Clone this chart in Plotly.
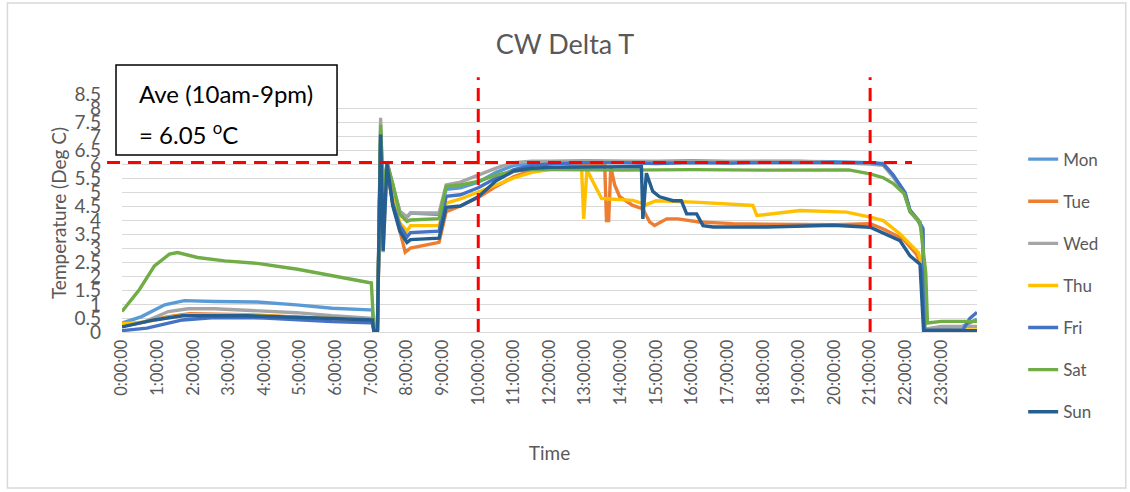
import plotly.graph_objects as go

# x axis: hours of the day, shown as h:00:00
hours = list(range(24))
hour_labels = [f"{h}:00:00" for h in hours]
y_ticks = [i * 0.5 for i in range(18)]
y_labels = [f"{v:g}" for v in y_ticks]

days = ["Mon", "Tue", "Wed", "Thu", "Fri", "Sat", "Sun"]
colors = ["#5B9BD5", "#ED7D31", "#A5A5A5", "#FFC000", "#4472C4", "#70AD47", "#255E91"]

avg_value = 6.05
window_start = 10
window_end = 21

# values (hour, deg C)
mon_t = [0, 0.55, 1.2, 1.75, 2.6, 3.8, 4.9, 5.9, 6.95, 7.03, 7.07, 7.17, 7.26, 7.33, 7.44, 7.6, 7.8, 8.0, 8.1,
         8.9, 9.1, 9.5, 10.0, 10.5, 11.0, 11.5, 12.0, 13.0, 14.0, 15.0, 16.0, 17.0, 18.0, 19.0, 20.0, 21.0,
         21.37, 21.64, 21.98, 22.12, 22.35, 22.48, 22.53, 23.0, 23.6, 24.0]
mon_v = [0.32, 0.55, 0.97, 1.12, 1.09, 1.07, 0.97, 0.85, 0.79, 0.79, 0.1, 0.05, 7.2, 5.2, 6.0, 5.2, 4.3, 4.1, 4.25,
         4.2, 5.1, 5.15, 5.35, 5.7, 5.95, 6.0, 6.05, 6.1, 6.1, 6.08, 6.12, 6.08, 6.1, 6.1, 6.08, 6.05,
         6.02, 5.6, 4.95, 4.3, 3.98, 3.68, 0.1, 0.15, 0.2, 0.45]

tue_t = [0, 0.6, 1.3, 1.9, 3.5, 4.9, 6.2, 6.95, 7.03, 7.07, 7.17, 7.26, 7.33, 7.44, 7.6, 7.8, 7.95, 8.1, 8.9,
         9.1, 9.5, 10.0, 10.5, 11.0, 11.5, 12.0, 13.0, 13.55, 13.6, 13.66, 13.72, 13.83, 13.97, 14.34, 14.62,
         14.81, 14.95, 15.29, 15.6, 16.2, 17.15, 18.0, 19.0, 20.0, 21.0, 21.37, 21.93, 22.3, 22.44, 22.52,
         23.0, 24.0]
tue_v = [0.22, 0.35, 0.55, 0.65, 0.62, 0.53, 0.45, 0.4, 0.4, 0.1, 0.1, 6.7, 4.5, 5.8, 4.6, 3.6, 2.85, 3.0, 3.2,
         4.3, 4.5, 4.8, 5.2, 5.55, 5.75, 5.85, 5.95, 5.95, 3.98, 3.98, 5.9, 5.25, 4.83, 4.52, 4.4,
         3.93, 3.8, 4.04, 4.04, 3.93, 3.87, 3.85, 3.85, 3.83, 3.87, 3.68, 3.32, 2.78, 2.36, 0.07,
         0.05, 0.05]

wed_t = [0, 0.6, 1.3, 1.85, 2.6, 3.8, 4.9, 5.9, 6.95, 7.03, 7.07, 7.17, 7.26, 7.33, 7.44, 7.6, 7.8, 8.0, 8.1,
         8.9, 9.1, 9.5, 10.0, 10.5, 11.0, 11.5, 12.0, 13.0, 14.0, 15.0, 16.0, 17.0, 18.0, 19.0, 20.0, 21.0,
         21.37, 21.64, 21.98, 22.12, 22.35, 22.48, 22.53, 23.0, 24.0]
wed_v = [0.2, 0.35, 0.73, 0.83, 0.83, 0.77, 0.69, 0.58, 0.49, 0.49, 0.1, 0.1, 7.65, 2.85, 6.1, 5.2, 4.3, 4.1, 4.25,
         4.25, 5.25, 5.35, 5.6, 5.85, 6.05, 6.1, 6.1, 6.12, 6.1, 6.1, 6.12, 6.1, 6.08, 6.1, 6.05, 6.0,
         5.95, 5.55, 4.9, 4.3, 3.95, 3.6, 0.1, 0.2, 0.2]

thu_t = [0, 0.6, 1.3, 1.9, 3.5, 4.9, 6.2, 6.95, 7.03, 7.07, 7.17, 7.26, 7.33, 7.44, 7.6, 7.8, 8.0, 8.1, 8.9,
         9.1, 9.5, 10.0, 10.5, 11.0, 11.5, 12.0, 12.9, 12.96, 13.05, 13.32, 13.46, 13.8, 14.34, 14.72, 14.99,
         16.22, 17.71, 17.82, 19.03, 20.34, 20.9, 21.0, 21.37, 21.84, 22.12, 22.35, 22.44, 22.52, 24.0]
thu_v = [0.3, 0.35, 0.52, 0.62, 0.6, 0.53, 0.45, 0.42, 0.42, 0.1, 0.1, 6.6, 4.5, 5.9, 4.8, 3.9, 3.6, 3.8, 3.8,
         4.6, 4.75, 5.0, 5.24, 5.5, 5.7, 5.8, 5.85, 4.04, 5.79, 5.13, 4.77, 4.74, 4.7, 4.55, 4.69,
         4.63, 4.52, 4.16, 4.34, 4.28, 4.14, 4.1, 3.98, 3.5, 3.14, 2.84, 2.48, 0.07, 0.07]

fri_t = [0, 0.7, 1.7, 2.6, 4.0, 5.9, 6.95, 7.03, 7.07, 7.17, 7.26, 7.33, 7.44, 7.6, 7.8, 8.0, 8.1, 8.9,
         9.1, 9.5, 10.0, 10.5, 11.0, 11.5, 12.0, 13.0, 14.0, 15.0, 16.0, 17.0, 18.0, 19.0, 20.0, 21.0,
         21.37, 21.64, 21.98, 22.12, 22.35, 22.48, 22.53, 23.6, 23.8, 24.0]
fri_v = [0.05, 0.14, 0.43, 0.52, 0.5, 0.37, 0.33, 0.33, 0.05, 0.05, 6.9, 4.0, 5.9, 4.6, 3.8, 3.4, 3.55, 3.6,
         4.85, 4.9, 5.15, 5.5, 5.8, 5.95, 6.0, 6.05, 6.05, 6.02, 6.05, 6.03, 6.05, 6.05, 6.03, 6.05,
         6.0, 5.62, 4.98, 4.35, 4.0, 3.7, 0.07, 0.07, 0.49, 0.7]

sat_t = [0, 0.49, 0.91, 1.33, 1.56, 2.12, 2.88, 3.8, 4.93, 5.88, 6.9, 7.0, 7.07, 7.17, 7.26, 7.33, 7.44, 7.6,
         7.8, 8.0, 8.1, 8.9, 9.1, 9.5, 10.0, 10.5, 11.0, 11.5, 12.0, 14.0, 16.0, 18.0, 20.4, 21.0, 21.37,
         21.64, 21.95, 22.12, 22.4, 22.56, 22.61, 23.0, 24.0]
sat_v = [0.73, 1.52, 2.36, 2.78, 2.84, 2.66, 2.54, 2.45, 2.24, 2.02, 1.79, 1.75, 0.05, 0.1, 7.4, 5.0, 6.05, 5.3,
         4.2, 3.95, 4.0, 4.05, 5.2, 5.25, 5.38, 5.6, 5.75, 5.8, 5.8, 5.78, 5.8, 5.78, 5.79, 5.65, 5.51,
         5.31, 4.95, 4.3, 3.93, 2.13, 0.32, 0.38, 0.38]

sun_t = [0, 0.9, 1.7, 3.5, 5.5, 6.95, 7.03, 7.07, 7.17, 7.26, 7.33, 7.44, 7.6, 7.8, 8.0, 8.1, 8.9,
         9.1, 9.5, 10.0, 10.5, 11.0, 11.5, 12.0, 13.0, 14.0, 14.58, 14.62, 14.72, 14.9, 15.09, 15.47, 15.7,
         15.85, 16.13, 16.31, 16.6, 18.1, 19.97, 20.9, 21.0, 21.84, 22.12, 22.4, 22.5, 24.0]
sun_v = [0.18, 0.43, 0.58, 0.58, 0.5, 0.43, 0.43, 0.0, 0.05, 7.05, 2.9, 6.0, 4.5, 3.6, 3.2, 3.3, 3.35,
         4.45, 4.5, 4.83, 5.4, 5.75, 5.85, 5.88, 5.9, 5.9, 5.9, 4.04, 5.67, 5.02, 4.83, 4.69, 4.69,
         4.22, 4.22, 3.8, 3.75, 3.75, 3.81, 3.75, 3.74, 3.26, 2.72, 2.42, 0.05, 0.05]

series_t = [mon_t, tue_t, wed_t, thu_t, fri_t, sat_t, sun_t]
series_v = [mon_v, tue_v, wed_v, thu_v, fri_v, sat_v, sun_v]

grey_text = "#595959"
font_main = "Lato, 'Open Sans', sans-serif"

fig = go.Figure()
for name, col, t, v in zip(days, colors, series_t, series_v):
    fig.add_trace(go.Scatter(x=t, y=v, mode="lines", name=name, legendgroup=name,
                             line=dict(color=col, width=3.4)))

# reference lines: average and the 10am-9pm window
fig.add_shape(type="line", xref="paper", yref="y", x0=-0.0175, x1=0.924, y0=avg_value, y1=avg_value,
              line=dict(color="#FF0000", width=3, dash="13px,8px"))
for h in (window_start, window_end):
    fig.add_shape(type="line", xref="x", yref="paper", x0=h, x1=h, y0=0, y1=1.07,
                  line=dict(color="#FF0000", width=3, dash="13px,8px"))

# text box
fig.add_shape(type="rect", xref="paper", yref="paper", x0=-0.007, x1=0.2515, y0=0.744, y1=1.122,
              line=dict(color="black", width=1.5), fillcolor="white")
fig.add_annotation(xref="paper", yref="paper", x=0.0175, y=1.004, xanchor="left", yanchor="middle",
                   showarrow=False, text=f"Ave ({window_start}am-{window_end - 12}pm)",
                   font=dict(family=font_main, size=24, color="black"))
fig.add_annotation(xref="paper", yref="paper", x=0.0175, y=0.836, xanchor="left", yanchor="middle",
                   showarrow=False, text=f"= {avg_value:.2f} <sup>o</sup>C",
                   font=dict(family=font_main, size=24, color="black"))

# outer chart border
fig.add_shape(type="rect", xref="paper", yref="paper", x0=-0.134, x1=1.174, y0=-0.655, y1=1.382,
              line=dict(color="#D9D9D9", width=1.5), layer="below")

fig.update_layout(
    width=1130, height=492,
    margin=dict(l=122, r=153, t=94, b=160),
    paper_bgcolor="white", plot_bgcolor="white",
    title=dict(text="CW Delta T", x=0.5, xref="container", xanchor="center", y=0.91, yanchor="middle",
               font=dict(family=font_main, size=27, color=grey_text)),
    font=dict(family=font_main, color=grey_text),
    legend=dict(x=1.054, y=0.8, xanchor="left", yanchor="top", tracegroupgap=17, maxheight=380,
                font=dict(size=17, color=grey_text), bgcolor="rgba(0,0,0,0)"),
    showlegend=True,
)
fig.update_xaxes(range=[0, 24], tickvals=hours, ticktext=hour_labels, tickangle=-90,
                 tickfont=dict(size=16.5, color=grey_text), showgrid=False, zeroline=False,
                 showline=True, linecolor="#D9D9D9", linewidth=1, ticks="",
                 title=dict(text="Time", font=dict(size=19, color=grey_text), standoff=42))
fig.update_yaxes(range=[0, 8.5], tickvals=y_ticks, ticktext=y_labels,
                 tickfont=dict(size=19, color=grey_text), showgrid=True, gridcolor="#D9D9D9",
                 zeroline=False, showline=False, ticks="", ticklabelstandoff=20,
                 title=dict(text="Temperature (Deg C)", font=dict(size=19, color=grey_text), standoff=2))

fig.write_html("out.html", config={"displayModeBar": False},
               post_script="document.body.style.margin='0';")
